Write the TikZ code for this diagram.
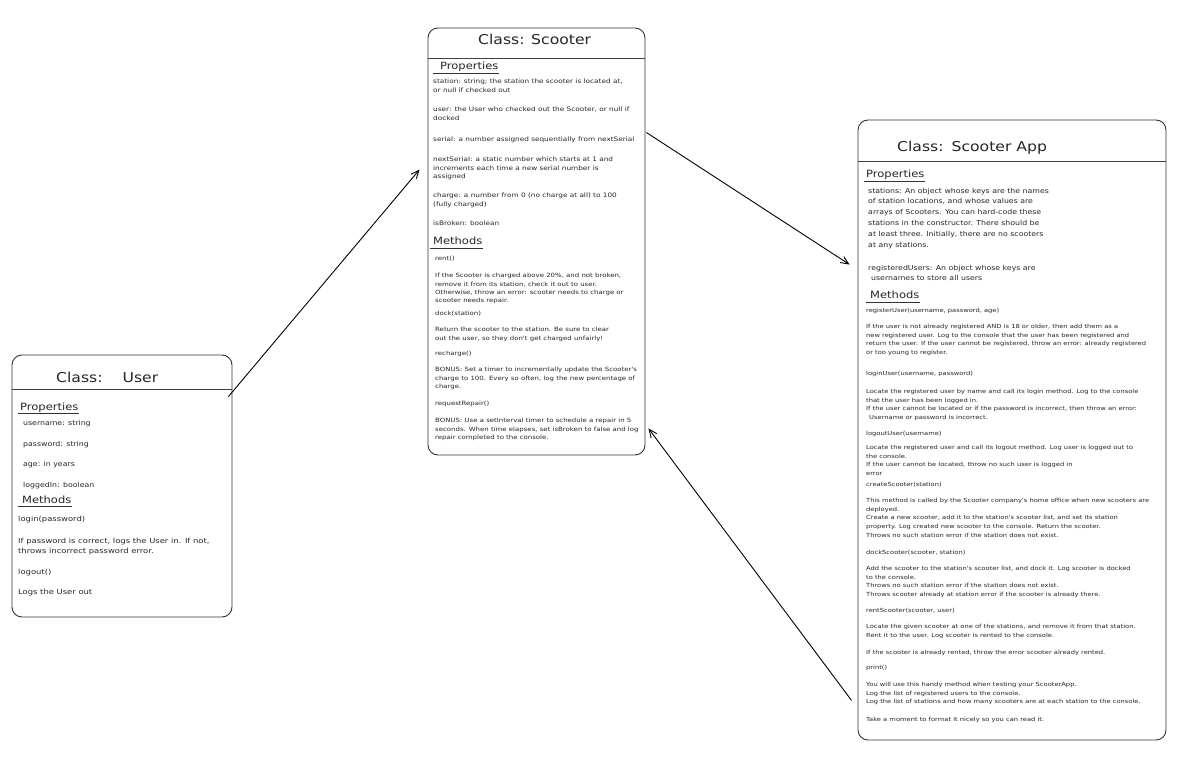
\documentclass[tikz,border=0pt]{standalone}
\usepackage{fontspec}
\newfontfamily\hand{DejaVu Sans}[FakeStretch=1.15]
\newfontfamily\handb{DejaVu Sans}[FakeStretch=1.2]
\usetikzlibrary{arrows.meta}
\begin{document}
\begin{tikzpicture}[x=1pt,y=-1pt,
  box/.style={draw=black!80, line width=0.9pt, rounded corners=10pt, inner sep=0pt, fill=white},
  ttl/.style={font=\hand\fontsize{13.6}{16}\selectfont, inner sep=0pt, anchor=base west, text=black!85},
  hd/.style={font=\hand\fontsize{10}{12}\selectfont, inner sep=0pt, anchor=base west, text=black!85},
  uline/.style={line width=0.6pt, draw=black!80},
  hline/.style={line width=0.8pt, draw=black!75},
  up/.style={font=\hand\fontsize{6.8}{10}\selectfont, inner sep=0pt, align=left, text=black!85},
  ut/.style={font=\handb\fontsize{7}{10}\selectfont, inner sep=0pt, align=left, text=black!85},
  st/.style={font=\handb\fontsize{6.1}{8.4}\selectfont, inner sep=0pt, align=left, text=black!85},
  sm/.style={font=\handb\fontsize{5.8}{8.3}\selectfont, inner sep=0pt, align=left, text=black!85},
  ap/.style={font=\hand\fontsize{6.8}{10.8}\selectfont, inner sep=0pt, align=left, text=black!85},
  am/.style={font=\handb\fontsize{5.6}{8.6}\selectfont, inner sep=0pt, align=left, text=black!85},
  sl/.style={anchor=base west},
  para/.style={anchor=north west},
  conn/.style={-{Straight Barb[length=8pt,width=7pt]}, line width=0.9pt, draw=black}
]
\useasboundingbox (0,0) rectangle (1187,762);

% ---------- boxes ----------
\node[box, minimum width=220pt, minimum height=262pt] (user) at (122,486) {};
\node[box, minimum width=217pt, minimum height=427pt] (scooter) at (536.5,241.5) {};
\node[box, minimum width=308pt, minimum height=620pt] (app) at (1012,430) {};

\draw[hline] (user.west |- 0,389) -- (user.east |- 0,389);
\draw[hline] (scooter.west |- 0,58) -- (scooter.east |- 0,58);
\draw[hline] (app.west |- 0,161) -- (app.east |- 0,161);

% ---------- User ----------
\node[ttl] (utitle) at (56,382) {Class:\hspace{20pt}User};
\node[hd] (uprop) at (20,410) {Properties};
\draw[uline] ([xshift=-2pt,yshift=-3pt]uprop.base west) -- ([yshift=-3pt]uprop.base east);
\node[up,sl] (u1) at (23,425) {username: string};
\node[up,sl] (u2) at (23,446) {password: string};
\node[up,sl] (u3) at (23,466) {age: in years};
\node[up,sl] (u4) at (23,487) {loggedIn: boolean};
\node[hd] (umeth) at (22,503) {Methods};
\draw[uline] ([xshift=-4pt,yshift=-3pt]umeth.base west) -- ([yshift=-3pt]umeth.base east);
\node[ut,sl] (u5) at (18,521) {login(password)};
\node[ut,para] (u6) at (18,537.6) {If password is correct, logs the User in. If not,\\throws incorrect password error.};
\node[ut,sl] (u7) at (18,574) {logout()};
\node[ut,sl] (u8) at (18,594) {Logs the User out};

% ---------- Scooter ----------
\node[ttl] (stitle) at (478,45) {Class: Scooter};
\node[hd] (sprop) at (440,70) {Properties};
\draw[uline] ([xshift=-7pt,yshift=-3pt]sprop.base west) -- ([yshift=-3pt]sprop.base east);
\node[st,para] (s1) at (433,79) {station: string; the station the scooter is located at,\\or null if checked out};
\node[st,para] (s2) at (433,107) {user: the User who checked out the Scooter, or null if\\docked};
\node[st,sl] (s3) at (433,141.7) {serial: a number assigned sequentially from nextSerial};
\node[st,para] (s4) at (433,157) {nextSerial: a static number which starts at 1 and\\increments each time a new serial number is\\assigned};
\node[st,para] (s5) at (433,193) {charge: a number from 0 (no charge at all) to 100\\(fully charged)};
\node[st,sl] (s6) at (433,225.7) {isBroken: boolean};
\node[hd] (smeth) at (433,245) {Methods};
\draw[uline] ([xshift=-3pt,yshift=-3pt]smeth.base west) -- ([yshift=-3pt]smeth.base east);
\node[sm,sl] (s7) at (435,260.6) {rent()};
\node[sm,para] (s8) at (435,273.2) {If the Scooter is charged above 20\%, and not broken,\\remove it from its station, check it out to user.\\Otherwise, throw an error: scooter needs to charge or\\scooter needs repair.};
\node[sm,sl] (s9) at (435,315.6) {dock(station)};
\node[sm,para] (s10) at (435,327.2) {Return the scooter to the station. Be sure to clear\\out the user, so they don't get charged unfairly!};
\node[sm,sl] (s11) at (435,355.6) {recharge()};
\node[sm,para] (s12) at (435,367.2) {BONUS: Set a timer to incrementally update the Scooter's\\charge to 100. Every so often, log the new percentage of\\charge.};
\node[sm,sl] (s13) at (435,405.6) {requestRepair()};
\node[sm,para] (s14) at (435,418.2) {BONUS: Use a setInterval timer to schedule a repair in 5\\seconds. When time elapses, set isBroken to false and log\\repair completed to the console.};

% ---------- Scooter App ----------
\node[ttl] (atitle) at (897,152) {Class:\hspace{8pt}Scooter App};
\node[hd] (aprop) at (866,178) {Properties};
\draw[uline] ([xshift=-2pt,yshift=-3pt]aprop.base west) -- ([yshift=-3pt]aprop.base east);
\node[ap,para] (a1) at (868,187.8) {stations: An object whose keys are the names\\of station locations, and whose values are\\arrays of Scooters. You can hard-code these\\stations in the constructor. There should be\\at least three. Initially, there are no scooters\\at any stations.};
\node[ap,para] (a2) at (868,264.8) {registeredUsers: An object whose keys are\\\hspace{3pt}usernames to store all users};
\node[hd] (ameth) at (870,299) {Methods};
\draw[uline] ([xshift=-4pt,yshift=-3pt]ameth.base west) -- ([yshift=-3pt]ameth.base east);
\node[am,sl] (a3) at (866,312.6) {registerUser(username, password, age)};
\node[am,para] (a4) at (866,324.3) {If the user is not already registered AND is 18 or older, then add them as a\\new registered user. Log to the console that the user has been registered and\\return the user. If the user cannot be registered, throw an error: already registered\\or too young to register.};
\node[am,sl] (a5) at (866,375.6) {loginUser(username, password)};
\node[am,para] (a6) at (866,389.3) {Locate the registered user by name and call its login method. Log to the console\\that the user has been logged in.\\If the user cannot be located or if the password is incorrect, then throw an error:\\\hspace{3pt}Username or password is incorrect.};
\node[am,sl] (a7) at (866,435.6) {logoutUser(username)};
\node[am,para] (a8) at (866,445.3) {Locate the registered user and call its logout method. Log user is logged out to\\the console.\\If the user cannot be located, throw no such user is logged in\\error};
\node[am,sl] (a9) at (866,486.6) {createScooter(station)};
\node[am,para] (a10) at (866,498.3) {This method is called by the Scooter company's home office when new scooters are\\deployed.\\Create a new scooter, add it to the station's scooter list, and set its station\\property. Log created new scooter to the console. Return the scooter.\\Throws no such station error if the station does not exist.};
\node[am,sl] (a11) at (866,554.6) {dockScooter(scooter, station)};
\node[am,para] (a12) at (866,566.3) {Add the scooter to the station's scooter list, and dock it. Log scooter is docked\\to the console.\\Throws no such station error if the station does not exist.\\Throws scooter already at station error if the scooter is already there.};
\node[am,sl] (a13) at (866,612.6) {rentScooter(scooter, user)};
\node[am,para] (a14) at (866,624.3) {Locate the given scooter at one of the stations, and remove it from that station.\\Rent it to the user. Log scooter is rented to the console.};
\node[am,sl] (a15) at (866,654.6) {If the scooter is already rented, throw the error scooter already rented.};
\node[am,sl] (a16) at (866,669.6) {print()};
\node[am,para] (a17) at (866,682.3) {You will use this handy method when testing your ScooterApp.\\Log the list of registered users to the console.\\Log the list of stations and how many scooters are at each station to the console.};
\node[am,sl] (a18) at (866,721.6) {Take a moment to format it nicely so you can read it.};

% ---------- connectors ----------
\coordinate (c1s) at ([xshift=-4pt,yshift=-42pt]user.north east);
\coordinate (c1e) at ([xshift=-8pt,yshift=-142pt]scooter.north west);
\coordinate (c2s) at ([xshift=1pt,yshift=-105pt]scooter.north east);
\coordinate (c2e) at ([xshift=-8pt,yshift=-145pt]app.north west);
\coordinate (c3s) at ([xshift=-6pt,yshift=40pt]app.south west);
\coordinate (c3e) at ([xshift=3pt,yshift=27pt]scooter.south east);
\draw[conn] (c1s) -- (c1e);
\draw[conn] (c2s) -- (c2e);
\draw[conn] (c3s) -- (c3e);
\end{tikzpicture}
\end{document}
